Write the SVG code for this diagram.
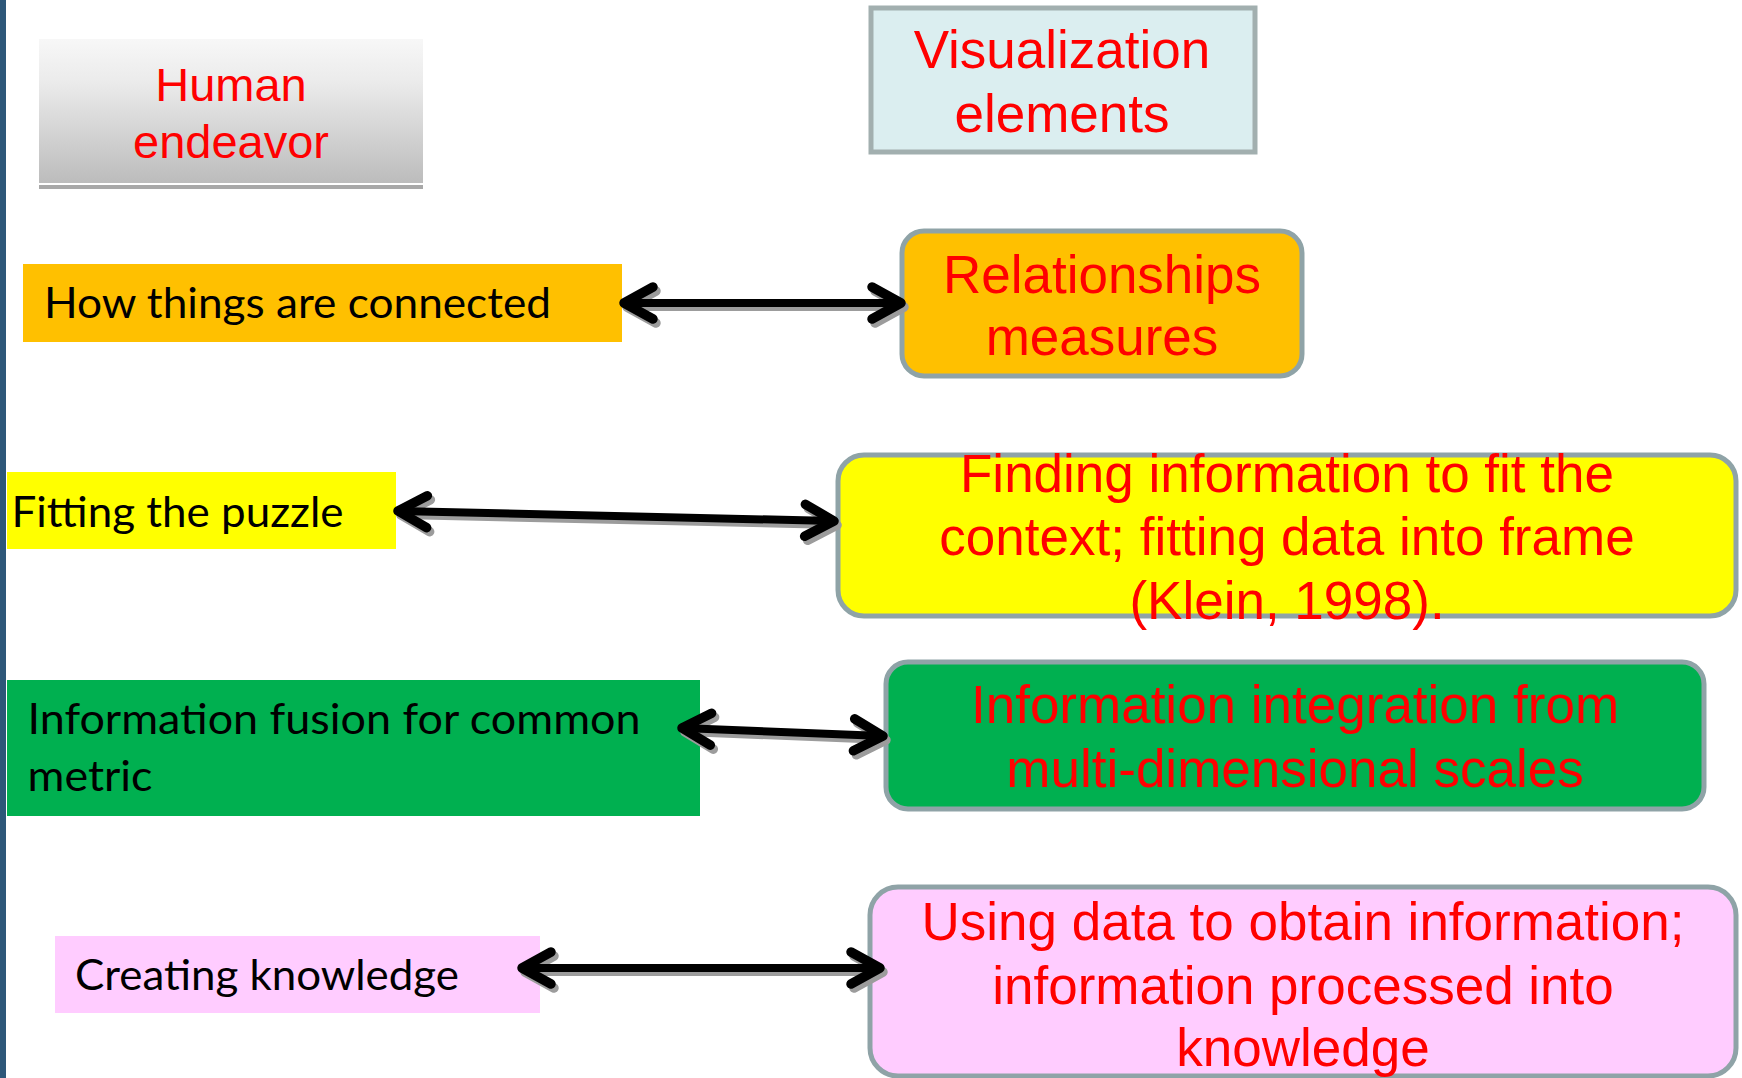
<svg xmlns="http://www.w3.org/2000/svg" width="1742" height="1078" viewBox="0 0 1742 1078">
  <style>
    .red { font-family: "Liberation Sans", Arial, sans-serif; fill: #FF0000; text-anchor: middle; }
    .big { font-size: 53px; }
    .blk { font-family: Lato, "Open Sans", sans-serif; font-size: 42px; fill: #000000; }
    .rbox { stroke: #8FA3A7; stroke-width: 5; }
    .ln { fill: none; stroke-width: 8; }
  </style>
  <defs>
    <linearGradient id="grayGrad" x1="0" y1="0" x2="0" y2="1">
      <stop offset="0" stop-color="#F7F7F7"/>
      <stop offset="0.3" stop-color="#EBEBEB"/>
      <stop offset="1" stop-color="#BCBCBC"/>
    </linearGradient>
    <marker id="chev" markerUnits="userSpaceOnUse" markerWidth="50" markerHeight="50" viewBox="-40 -25 50 50" refX="0" refY="0" orient="auto-start-reverse" overflow="visible">
      <path d="M-29,-16 L0,0 L-29,16" fill="none" stroke="#000000" stroke-width="9.5" stroke-linecap="round" stroke-linejoin="round"/>
    </marker>
    <marker id="chevS" markerUnits="userSpaceOnUse" markerWidth="50" markerHeight="50" viewBox="-40 -25 50 50" refX="0" refY="0" orient="auto-start-reverse" overflow="visible">
      <path d="M-29,-16 L0,0 L-29,16" fill="none" stroke="#9C9C9C" stroke-width="9.5" stroke-linecap="round" stroke-linejoin="round"/>
    </marker>
  </defs>

  <rect x="0" y="0" width="1742" height="1078" fill="#FFFFFF"/>
  <!-- slide edge bar -->
  <rect x="0" y="0" width="6" height="1078" fill="#2D5779"/>

  <!-- column headers -->
  <g id="human-endeavor">
    <rect x="39" y="39" width="384" height="144" fill="url(#grayGrad)"/>
    <rect x="39" y="185" width="384" height="4" fill="#A8A8A8"/>
    <text class="red" font-size="47" x="231" y="101">Human</text>
    <text class="red" font-size="47" x="231" y="158">endeavor</text>
  </g>
  <g id="visualization-elements">
    <rect x="871" y="8" width="384" height="144" fill="#DBEEF0" stroke="#A2AFAF" stroke-width="5"/>
    <text class="red big" x="1062" y="68">Visualization</text>
    <text class="red big" x="1062" y="132">elements</text>
  </g>

  <!-- left column -->
  <g id="how-things-connected">
    <rect x="23" y="264" width="599" height="78" fill="#FFC000"/>
    <text class="blk" x="44" y="318" textLength="507" lengthAdjust="spacingAndGlyphs">How things are connected</text>
  </g>
  <g id="fitting-puzzle">
    <rect x="7" y="472" width="389" height="77" fill="#FFFF00"/>
    <text class="blk" x="11.5" y="527" textLength="332" lengthAdjust="spacingAndGlyphs">Fitting the puzzle</text>
  </g>
  <g id="information-fusion">
    <rect x="7" y="680" width="693" height="136" fill="#00B050"/>
    <text class="blk" x="27.5" y="734" textLength="613" lengthAdjust="spacingAndGlyphs">Information fusion for common</text>
    <text class="blk" x="27.5" y="791" textLength="125" lengthAdjust="spacingAndGlyphs">metric</text>
  </g>
  <g id="creating-knowledge">
    <rect x="55" y="936" width="485" height="77" fill="#FFCCFF"/>
    <text class="blk" x="75" y="990" textLength="384" lengthAdjust="spacingAndGlyphs">Creating knowledge</text>
  </g>

  <!-- right column -->
  <g id="relationships-measures">
    <rect class="rbox" x="902" y="231" width="400" height="145" rx="22" fill="#FFC000"/>
    <text class="red big" x="1102" y="293">Relationships</text>
    <text class="red big" x="1102" y="355">measures</text>
  </g>
  <g id="finding-information">
    <rect class="rbox" x="838" y="455" width="898" height="161" rx="26" fill="#FFFF00"/>
    <text class="red big" x="1287" y="492">Finding information to fit the</text>
    <text class="red big" x="1287" y="555">context; fitting data into frame</text>
    <text class="red big" x="1287" y="619">(Klein, 1998).</text>
  </g>
  <g id="information-integration">
    <rect class="rbox" x="886" y="662" width="818" height="147" rx="22" fill="#00B050"/>
    <text class="red big" x="1295" y="723">Information integration from</text>
    <text class="red big" x="1295" y="787">multi-dimensional scales</text>
  </g>
  <g id="using-data">
    <rect class="rbox" x="870" y="887" width="866" height="189" rx="28" fill="#FFCCFF"/>
    <text class="red big" x="1303" y="940">Using data to obtain information;</text>
    <text class="red big" x="1303" y="1004">information processed into</text>
    <text class="red big" x="1303" y="1066">knowledge</text>
  </g>

  <!-- two-way connectors -->
  <g id="connectors">
    <g id="conn-shadow" transform="translate(3,4)" stroke="#9C9C9C">
      <path class="ln" d="M624,303 L901,303" marker-start="url(#chevS)" marker-end="url(#chevS)"/>
      <path class="ln" d="M398,511 L834,521" marker-start="url(#chevS)" marker-end="url(#chevS)"/>
      <path class="ln" d="M682,728 L883,736" marker-start="url(#chevS)" marker-end="url(#chevS)"/>
      <path class="ln" d="M522,968 L880,968" marker-start="url(#chevS)" marker-end="url(#chevS)"/>
    </g>
    <g id="conn-lines" stroke="#000000">
      <path class="ln" d="M624,303 L901,303" marker-start="url(#chev)" marker-end="url(#chev)"/>
      <path class="ln" d="M398,511 L834,521" marker-start="url(#chev)" marker-end="url(#chev)"/>
      <path class="ln" d="M682,728 L883,736" marker-start="url(#chev)" marker-end="url(#chev)"/>
      <path class="ln" d="M522,968 L880,968" marker-start="url(#chev)" marker-end="url(#chev)"/>
    </g>
  </g>
</svg>
